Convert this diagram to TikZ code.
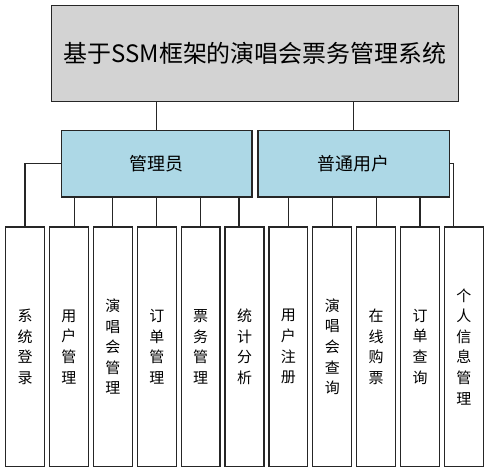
\documentclass[tikz,border=0pt]{standalone}
\usepackage{fontspec}
\setmainfont{Noto Sans CJK SC}
\usepackage{xcolor}
\usepackage{tikz}
\usetikzlibrary{positioning,calc}

\definecolor{titlegray}{HTML}{D3D3D3}
\definecolor{rolblue}{HTML}{ADD8E6}

\begin{document}
\begin{tikzpicture}[x=1pt, y=-1pt,
    every path/.style={line width=1.3pt, draw=black!85},
    titlebox/.style={draw, fill=titlegray, minimum width=408pt, minimum height=96pt, inner sep=0pt, font=\fontsize{24}{28}\selectfont},
    rolebox/.style={draw, fill=rolblue, minimum width=191pt, minimum height=67pt, inner sep=0pt, font=\fontsize{18}{22}\selectfont},
    funcbox/.style={draw, fill=white, minimum width=39pt, minimum height=240pt, inner sep=0pt, align=center, font=\fontsize{15}{20.7}\selectfont}]
            \useasboundingbox (0,0) rectangle (489,473);
            \fill[white] (0,0) rectangle (489,473);

            \node[titlebox] (title) at (255,53) {基于SSM框架的演唱会票务管理系统};
            \node[rolebox] (admin) at (156.5,163.5) {管理员};
            \node[rolebox, minimum width=192pt] (user) at (354,163.5) {普通用户};

            % admin functions
            \node[funcbox] (login) at (24.5,347) {系\\统\\登\\录};
            \node[funcbox] (usermgr) at (68.5,347) {用\\户\\管\\理};
            \node[funcbox] (showmgr) at (112.5,347) {演\\唱\\会\\管\\理};
            \node[funcbox] (ordermgr) at (156.5,347) {订\\单\\管\\理};
            \node[funcbox] (ticketmgr) at (200.5,347) {票\\务\\管\\理};
            \node[funcbox] (stats) at (244.5,347) {统\\计\\分\\析};
            % user functions
            \node[funcbox] (register) at (288.5,347) {用\\户\\注\\册};
            \node[funcbox] (showquery) at (332.5,347) {演\\唱\\会\\查\\询};
            \node[funcbox] (buy) at (376.5,347) {在\\线\\购\\票};
            \node[funcbox] (orderquery) at (420.5,347) {订\\单\\查\\询};
            \node[funcbox] (profile) at (464.5,347) {个\\人\\信\\息\\管\\理};

            \draw (title.south -| admin.north) -- (admin.north);
            \draw (title.south -| user.north) -- (user.north);

            \draw (admin.west) -| (login.north);
            \draw ([xshift=5.5pt]usermgr.north |- admin.south) -- ([xshift=5.5pt]usermgr.north);
            \draw (showmgr.north |- admin.south) -- (showmgr.north);
            \draw (ordermgr.north |- admin.south) -- (ordermgr.north);
            \draw (ticketmgr.north |- admin.south) -- (ticketmgr.north);
            \draw ([xshift=-5.5pt]stats.north |- admin.south) -- ([xshift=-5.5pt]stats.north);

            \draw (register.north |- user.south) -- (register.north);
            \draw (showquery.north |- user.south) -- (showquery.north);
            \draw (buy.north |- user.south) -- (buy.north);
            \draw (orderquery.north |- user.south) -- (orderquery.north);
            \draw (user.east) -| ([xshift=-10.5pt]profile.north);
          \end{tikzpicture}
\end{document}
